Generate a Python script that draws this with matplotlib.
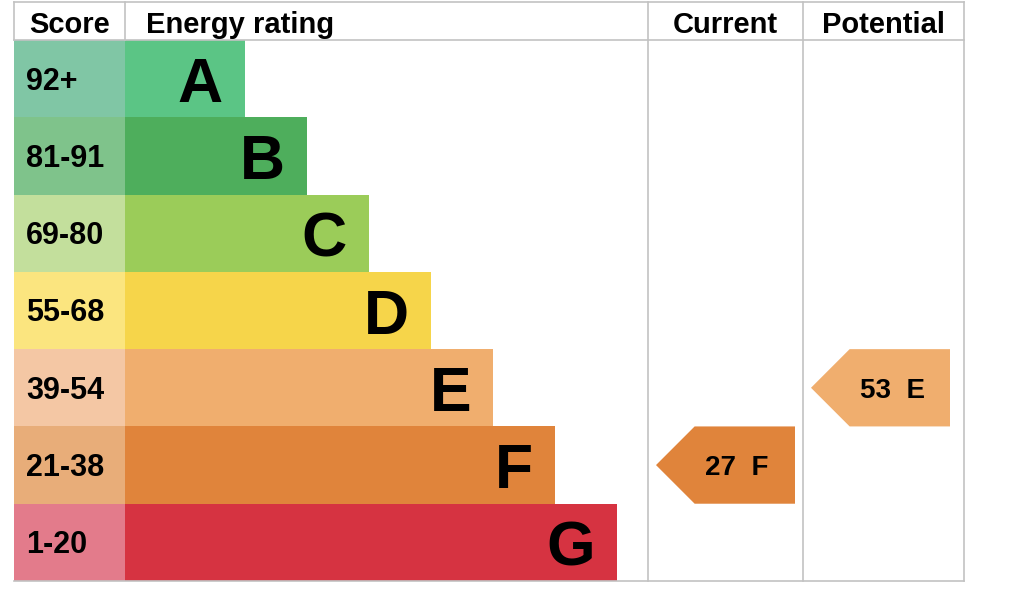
# EPC energy rating chart
import matplotlib.pyplot as plt
from matplotlib.patches import Rectangle, Polygon

bands = ['A', 'B', 'C', 'D', 'E', 'F', 'G']
scores = ['92+', '81-91', '69-80', '55-68', '39-54', '21-38', '1-20']
bar_colors = ['#5bc585', '#4eae5c', '#9bcc59', '#f6d54a', '#f0ae6e', '#e0843b', '#d63341']
score_colors = ['#80c6a5', '#7fc38b', '#c3df9c', '#fbe57f', '#f4c7a4', '#e8ad79', '#e37b8b']
current = (27, 'F')
potential = (53, 'E')

plt.rcParams['font.family'] = ['Liberation Sans', 'DejaVu Sans']

fig = plt.figure(figsize=(10.24, 6.14), dpi=100)
ax = fig.add_axes([0, 0, 1, 1])
ax.set_xlim(0, 1024)
ax.set_ylim(614, 0)
ax.axis('off')

# layout in pixels
left, score_w, bar0, step = 14, 111, 120, 62
top, head_h = 2, 40
row_h = (581 - head_h) / len(bands)
cur_x, pot_x, right = 648, 803, 964
bottom = head_h + row_h * len(bands)
grid = '#c2c2c2'


def label(x, yc, s, size, ha):
    # put the cap height centred on yc
    base = yc + 0.716 * size * 100 / 72 / 2
    ax.text(x, base, s, fontsize=size, fontweight='bold', ha=ha, va='baseline')


for i, (b, s) in enumerate(zip(bands, scores)):
    y = head_h + i * row_h
    ax.add_patch(Rectangle((left, y), score_w, row_h, color=score_colors[i], lw=0))
    w = bar0 + step * i
    ax.add_patch(Rectangle((left + score_w, y), w, row_h, color=bar_colors[i], lw=0))
    label(left + 12, y + row_h / 2, s, 22, 'left')
    label(left + score_w + w - 22, y + row_h / 2 + 1, b, 45, 'right')

# grid lines
for yy in (top, head_h, bottom):
    ax.plot([left, right], [yy, yy], color=grid, lw=1.2)
for xx in (left, left + score_w):
    ax.plot([xx, xx], [top, head_h], color=grid, lw=1.2)
for xx in (cur_x, pot_x, right):
    ax.plot([xx, xx], [top, bottom], color=grid, lw=1.2)

# headers
hy = 22.5
label(left + score_w / 2, hy, 'Score', 21, 'center')
label(left + score_w + 21, hy, 'Energy rating', 21, 'left')
label((cur_x + pot_x) / 2, hy, 'Current', 21, 'center')
label((pot_x + right) / 2, hy, 'Potential', 21, 'center')


def arrow(col_x, value, band):
    i = bands.index(band)
    y0 = head_h + i * row_h
    x0 = col_x + 8
    tip = row_h / 2
    pts = [(x0, y0 + row_h / 2), (x0 + tip, y0), (x0 + 139, y0),
           (x0 + 139, y0 + row_h), (x0 + tip, y0 + row_h)]
    ax.add_patch(Polygon(pts, closed=True, color=bar_colors[i], lw=0))
    label(x0 + 81, y0 + row_h / 2, f'{value}  {band}', 20, 'center')


arrow(cur_x, *current)
arrow(pot_x, *potential)

plt.savefig('out.png', dpi=100)
